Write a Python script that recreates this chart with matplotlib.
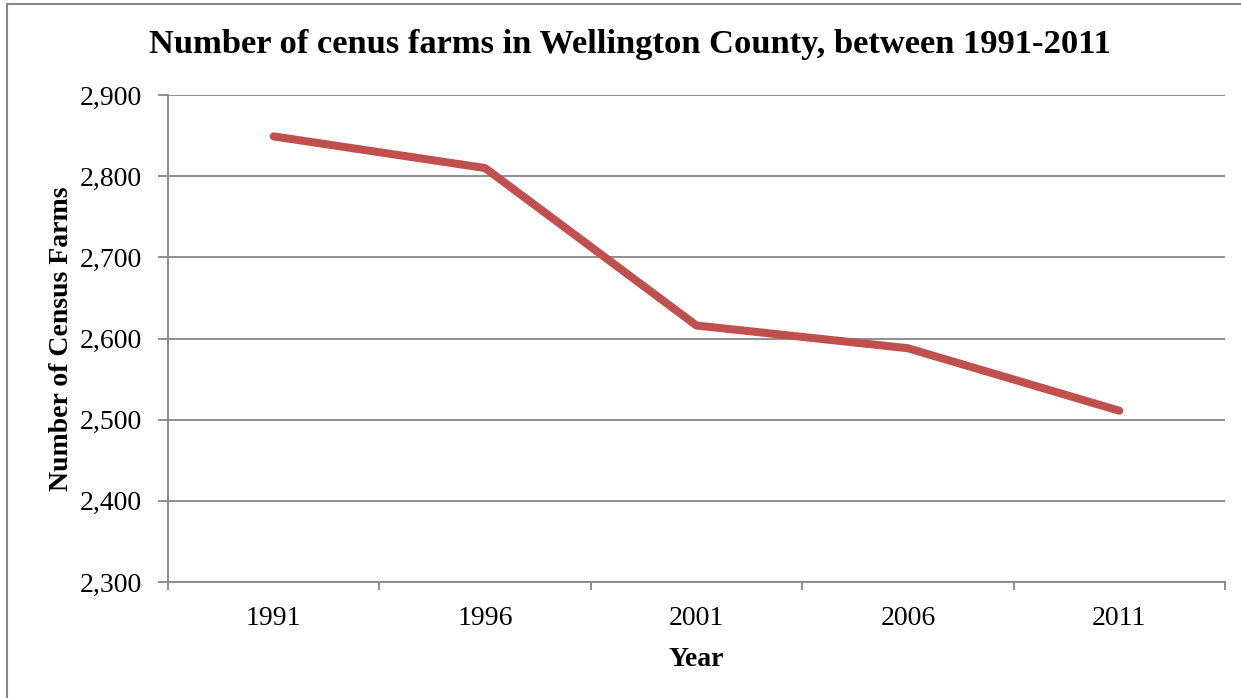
import matplotlib.pyplot as plt
from matplotlib.patches import Rectangle
from matplotlib.ticker import FuncFormatter, FixedLocator

# Census farm counts, Wellington County
years = ['1991', '1996', '2001', '2006', '2011']
farms = [2849, 2810, 2616, 2588, 2511]

plt.rcParams['font.family'] = ['Liberation Serif', 'DejaVu Serif']

fig = plt.figure(figsize=(12.41, 6.98), dpi=100)
ax = fig.add_axes([168 / 1241, 1 - 582 / 698, (1225 - 168) / 1241, (582 - 95) / 698])

# outer chart border
fig.patches.append(Rectangle((7 / 1241, -0.1), 1.2, 1 - 4 / 698 + 0.1, transform=fig.transFigure,
                             fill=False, edgecolor='#878787', linewidth=1.5))

x = list(range(len(years)))
ax.plot(x, farms, color='#C0504D', linewidth=5.8, solid_capstyle='round', solid_joinstyle='round')

ax.set_xlim(-0.5, len(years) - 0.5)
ax.set_ylim(2300, 2900)
ax.set_yticks(range(2300, 2901, 100))
ax.yaxis.set_major_formatter(FuncFormatter(lambda v, p: f'{int(v):,}'))
ax.yaxis.grid(True, color='#878787', linewidth=1.3)
ax.set_axisbelow(True)

ax.set_xticks(x)
ax.set_xticklabels(years)
ax.xaxis.set_major_locator(FixedLocator(x))
ax.set_xticks([i - 0.5 for i in range(len(years) + 1)], minor=True)
ax.tick_params(axis='x', which='major', length=0, pad=17, labelsize=20)
ax.tick_params(axis='x', which='minor', length=6, width=1.3, color='#878787', direction='out')
ax.tick_params(axis='y', length=7, width=1.3, color='#878787', pad=12, labelsize=20)

for s in ['top', 'right']:
    ax.spines[s].set_visible(False)
for s in ['left', 'bottom']:
    ax.spines[s].set_color('#878787')
    ax.spines[s].set_linewidth(1.3)

ax.set_xlabel('Year', fontsize=20, fontweight='bold', labelpad=12)
ax.set_ylabel('Number of Census Farms', fontsize=20, fontweight='bold', labelpad=4)
fig.text(630 / 1241, 1 - 45 / 698, 'Number of cenus farms in Wellington County, between 1991-2011',
         ha='center', va='center', fontsize=24.8, fontweight='bold')

plt.savefig('out.png', dpi=100)
